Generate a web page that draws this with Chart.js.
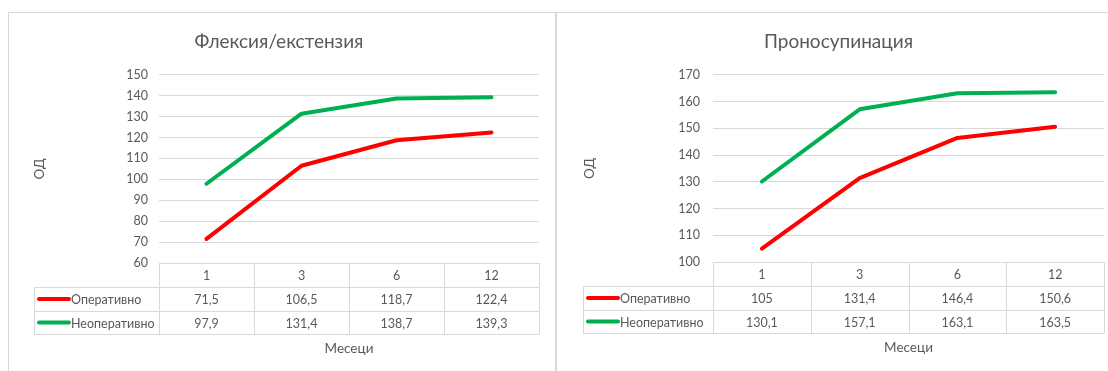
<!DOCTYPE html>
<html>
<head>
<meta charset="utf-8">
<script src="https://cdn.jsdelivr.net/npm/chart.js@4.4.1/dist/chart.umd.min.js"></script>
<style>
  body { margin: 0; background: #fff; }
  .box { position: absolute; top: 12px; border-top: 1px solid #d9d9d9; border-left: 1px solid #d9d9d9; background: #fff; }
  #leftBox { left: 8px; width: 546px; height: 358px; border-right: 1px solid #d9d9d9; }
  #rightBox { left: 556px; width: 551px; height: 358px; }
  canvas { display: block; }
</style>
</head>
<body>
<div class="box" id="leftBox"><canvas id="flexChart" width="546" height="358"></canvas></div>
<div class="box" id="rightBox"><canvas id="pronoChart" width="551" height="358"></canvas></div>
<script>
// data
var months = ['1', '3', '6', '12'];
var seriesNames = ['Оперативно', 'Неоперативно'];
var flexOperative = [71.5, 106.5, 118.7, 122.4];
var flexNonOperative = [97.9, 131.4, 138.7, 139.3];
var pronoOperative = [105, 131.4, 146.4, 150.6];
var pronoNonOperative = [130.1, 157.1, 163.1, 163.5];
var flexRange = [60, 150];
var pronoRange = [100, 170];

var textColor = '#595959';
var gridColor = '#d9d9d9';
var seriesColors = ['#ff0000', '#00b050'];

Chart.defaults.font.family = 'Lato';
Chart.defaults.color = textColor;

function fmt(v) {
    return String(v).replace('.', ',');
}

// draws the Excel-like data table under the plot area, columns taken from the x scale
var dataTable = {
    id: 'dataTable',
    afterDraw: function(chart, args, opts) {
        var ctx = chart.ctx;
        var x = chart.scales.x;
        var area = chart.chartArea;
        var n = chart.data.labels.length;
        var half = (x.getPixelForTick(1) - x.getPixelForTick(0)) / 2;
        var rows = [area.bottom, area.bottom + 24, area.bottom + 48, area.bottom + 71];
        var legendLeft = opts.legendLeft;
        ctx.save();
        ctx.strokeStyle = gridColor;
        ctx.lineWidth = 1;
        ctx.beginPath();
        function h(y, x0, x1) { ctx.moveTo(x0, Math.round(y) + 0.5); ctx.lineTo(x1, Math.round(y) + 0.5); }
        function v(xx, y0, y1) { ctx.moveTo(Math.round(xx) + 0.5, y0); ctx.lineTo(Math.round(xx) + 0.5, y1); }
        h(rows[0], area.left, area.right);
        h(rows[1], legendLeft, area.right);
        h(rows[2], legendLeft, area.right);
        h(rows[3], legendLeft, area.right);
        v(legendLeft, rows[1], rows[3]);
        for (var i = 0; i <= n; i++) {
            var bx = i < n ? x.getPixelForTick(i) - half : x.getPixelForTick(n - 1) + half;
            v(bx, rows[0], rows[3]);
        }
        ctx.stroke();

        ctx.font = '12.5px Lato';
        ctx.fillStyle = textColor;
        ctx.textBaseline = 'middle';
        ctx.textAlign = 'center';
        for (var j = 0; j < n; j++) {
            var cx = x.getPixelForTick(j);
            ctx.fillText(chart.data.labels[j], cx, (rows[0] + rows[1]) / 2 + 1);
            chart.data.datasets.forEach(function(ds, k) {
                ctx.fillText(fmt(ds.data[j]), cx, (rows[k + 1] + rows[k + 2]) / 2 + 1);
            });
        }
        ctx.textAlign = 'left';
        chart.data.datasets.forEach(function(ds, k) {
            var cy = (rows[k + 1] + rows[k + 2]) / 2;
            ctx.strokeStyle = ds.borderColor;
            ctx.lineWidth = 4;
            ctx.lineCap = 'round';
            ctx.beginPath();
            ctx.moveTo(legendLeft + 5, cy);
            ctx.lineTo(legendLeft + 35, cy);
            ctx.stroke();
            ctx.fillText(ds.label, legendLeft + 37, cy + 1);
        });
        ctx.restore();
    }
};

function makeChart(id, title, operative, nonOperative, range, lay) {
    return new Chart(document.getElementById(id), {
        type: 'line',
        data: {
            labels: months,
            datasets: [{
                label: seriesNames[0],
                data: operative,
                borderColor: seriesColors[0],
                backgroundColor: seriesColors[0],
                borderWidth: 4,
                pointRadius: 0,
                borderCapStyle: 'round',
                borderJoinStyle: 'round'
            }, {
                label: seriesNames[1],
                data: nonOperative,
                borderColor: seriesColors[1],
                backgroundColor: seriesColors[1],
                borderWidth: 4,
                pointRadius: 0,
                borderCapStyle: 'round',
                borderJoinStyle: 'round'
            }]
        },
        options: {
            responsive: false,
            animation: false,
            layout: { padding: { left: lay.padLeft, right: lay.padRight, top: 0, bottom: 0 } },
            plugins: {
                legend: { display: false },
                tooltip: { enabled: false },
                title: {
                    display: true,
                    text: title,
                    color: textColor,
                    font: { size: 19, weight: 'normal' },
                    padding: { top: 17, bottom: 22 }
                },
                dataTable: { legendLeft: lay.legendLeft }
            },
            scales: {
                x: {
                    offset: true,
                    grid: { display: false },
                    border: { display: false },
                    ticks: { display: false },
                    title: {
                        display: true,
                        text: 'Месеци',
                        color: textColor,
                        font: { size: 13.5 },
                        padding: { top: 0, bottom: lay.xTitlePad }
                    },
                    afterFit: function(scale) { scale.height = lay.xHeight; }
                },
                y: {
                    min: range[0],
                    max: range[1],
                    grid: { color: gridColor, drawTicks: false },
                    border: { display: false },
                    ticks: { stepSize: 10, padding: lay.tickPad, color: textColor, font: { size: 12.5 } },
                    title: {
                        display: true,
                        text: 'ОД',
                        color: textColor,
                        font: { size: 13.5 },
                        padding: { top: lay.yTitlePad, bottom: 0 }
                    },
                    afterFit: function(scale) { scale.width = 140; }
                }
            }
        },
        plugins: [dataTable]
    });
}

makeChart('flexChart', 'Флексия/екстензия', flexOperative, flexNonOperative, flexRange,
    { padLeft: 10, padRight: 16, legendLeft: 25, xHeight: 108, xTitlePad: 14, tickPad: 11, yTitlePad: 13 });
makeChart('pronoChart', 'Проносупинация', pronoOperative, pronoNonOperative, pronoRange,
    { padLeft: 16, padRight: 4, legendLeft: 26, xHeight: 109, xTitlePad: 15, tickPad: 13, yTitlePad: 9 });
</script>
</body>
</html>
